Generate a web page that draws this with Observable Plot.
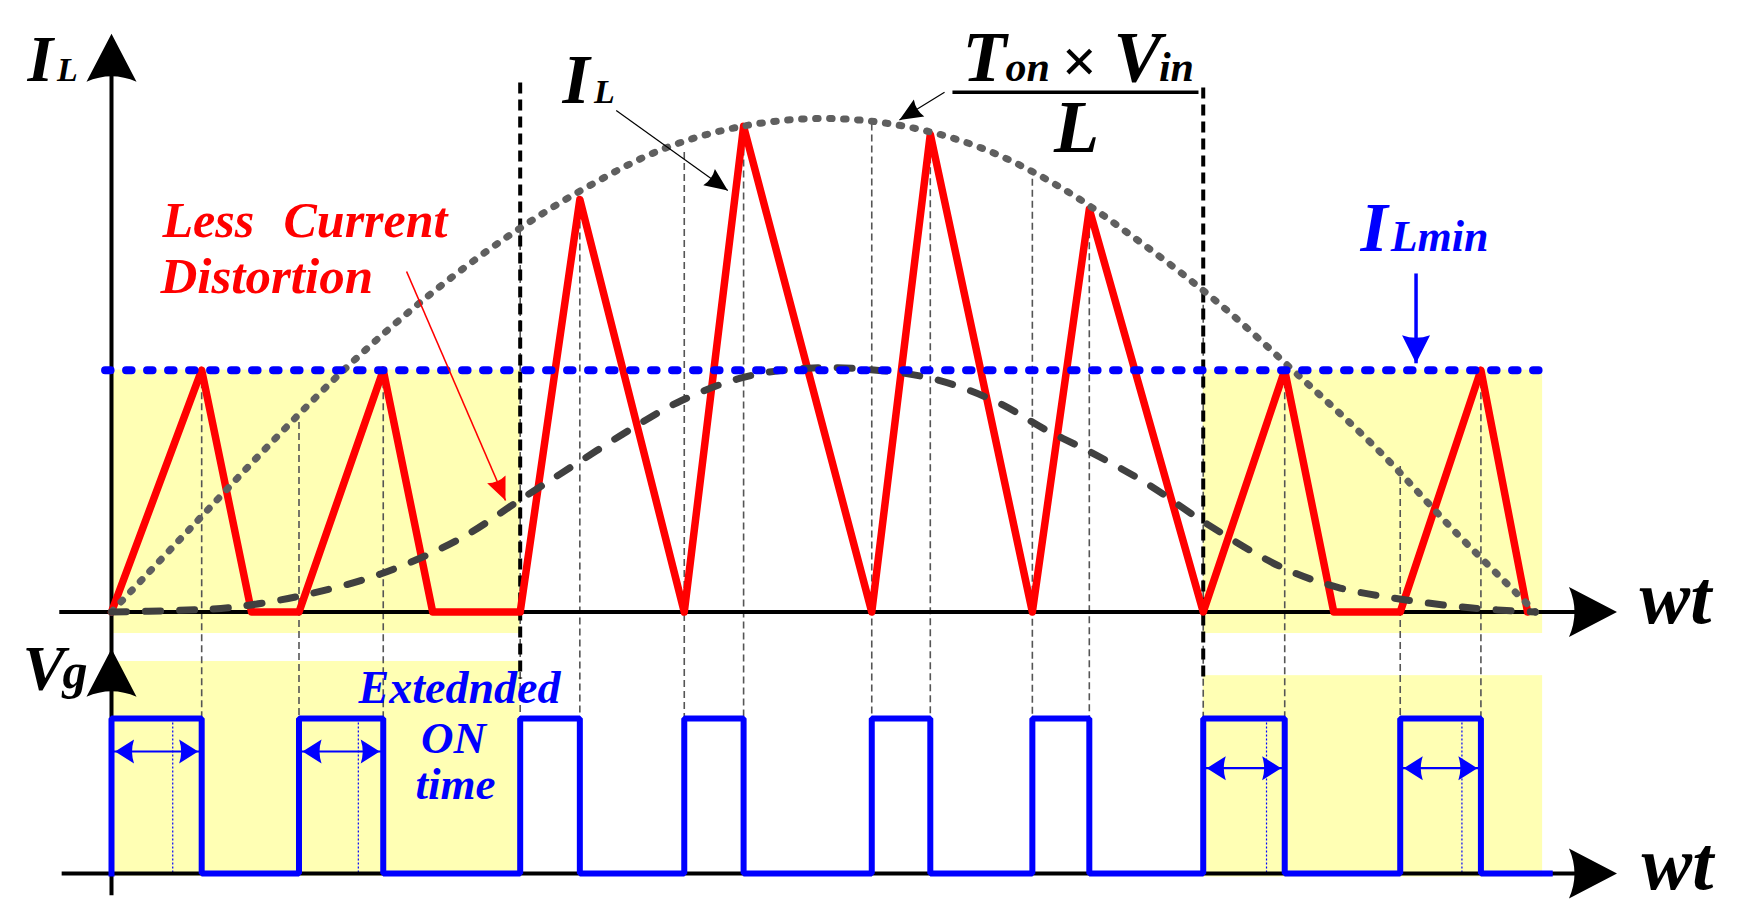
<!DOCTYPE html>
<html><head><meta charset="utf-8">
<script src="https://cdn.jsdelivr.net/npm/d3@7"></script>
<script src="https://cdn.jsdelivr.net/npm/@observablehq/plot@0.6"></script>
<style>
html,body{margin:0;padding:0;background:#fff;}
#chart{width:1738px;height:919px;overflow:hidden;}
</style></head><body><div id="chart"></div>
<script>
// ---------------- DATA ----------------
// angle ωt in degrees over one half cycle, current in units of the envelope peak
const envelopeDeg = [0, 10, 20, 30, 40, 50, 60, 70, 80, 90, 100, 110, 120, 130, 140, 150, 160, 170, 180];
const envelopeVal = [0, 0.17, 0.34, 0.50, 0.64, 0.76, 0.86, 0.94, 0.985, 1.0, 0.985, 0.94, 0.86, 0.75, 0.625, 0.48, 0.33, 0.16, 0];

const avgDeg = [0, 8, 15, 24, 34, 44, 52, 59, 66, 72, 80, 88, 96, 104, 112, 118, 124, 131, 138.5, 148, 155, 163, 172, 180];
const avgVal = [0, 0.003, 0.009, 0.033, 0.077, 0.148, 0.231, 0.303, 0.374, 0.428, 0.476, 0.494, 0.491, 0.472, 0.425, 0.37, 0.322, 0.259, 0.178, 0.09, 0.05, 0.026, 0.008, 0];

const redDeg = [0, 11.4, 17.7, 23.7, 34.35, 40.6, 51.66, 59.2, 72.4, 79.9, 96.1, 103.5, 116.4, 123.6, 138.0, 148.3, 154.5, 162.9, 173.1, 179.0];
const redVal = [0, 0.49, 0, 0, 0.49, 0, 0, 0.836, 0, 0.984, 0, 0.968, 0, 0.816, 0, 0.49, 0, 0, 0.49, 0];

const ILmin = 0.49;

const gateOn  = [0, 23.7, 51.66, 72.4, 96.1, 116.4, 138.0, 162.9];
const gateOff = [11.4, 34.35, 59.2, 79.9, 103.5, 123.6, 148.3, 173.1];
const gateEnd = 181.8;
const extendedPulses = [0, 1, 6, 7];
const nominalOff = [7.74, 31.2, 146.0, 170.7];

const guideDeg = [11.4, 23.7, 34.35, 51.66, 59.2, 72.4, 79.9, 96.1, 103.5, 116.4, 123.6, 138.0, 148.3, 162.9, 173.1];
const guideTop = [0.49, 0.385, 0.49, 0.77, 0.836, 0.932, 0.984, 0.99, 0.968, 0.878, 0.816, 0.645, 0.49, 0.296, 0.49];

const boundaryDeg = [51.66, 138.0];

// ---------------- LAYOUT ----------------
const W = 1738, H = 919;
const X_RANGE = [111, 1535];     // 0..180 deg
const Y_RANGE = [611.5, 118];    // 0..1 current unit
const VG_LOW = -0.53, VG_HIGH = -0.216;
const gy = v => VG_LOW + v * (VG_HIGH - VG_LOW);
const BLUE = "#0000ff", RED = "#ff0000";
const FONT = "Liberation Serif";
const AXIS_END = 190.3;

const px = d => X_RANGE[0] + d / 180 * (X_RANGE[1] - X_RANGE[0]);
const py = u => Y_RANGE[0] + u * (Y_RANGE[1] - Y_RANGE[0]);
const angleOf = (x1, y1, x2, y2) => Math.atan2(px(x2) - px(x1), -(py(y2) - py(y1))) * 180 / Math.PI;

function head(len, hw, notch) {
  return {draw(ctx) {
    ctx.moveTo(0, 0);
    ctx.lineTo(hw, len);
    ctx.quadraticCurveTo(0, len - notch, -hw, len);
    ctx.closePath();
  }};
}
const bigHead = head(48, 25, 11);
const smallHead = head(23, 10, 4);
const gateHead = head(19, 12, 4);
const minHead = head(28, 14, 5);

// ---------------- TABLES ----------------
const envelope = envelopeDeg.map((d, i) => ({x: d, y: envelopeVal[i]}));
const avg = avgDeg.map((d, i) => ({x: d, y: avgVal[i]}));
const red = redDeg.map((d, i) => ({x: d, y: redVal[i]}));
const gate = [];
gateOn.forEach((on, i) => {
  gate.push({x: on, y: gy(0)}, {x: on, y: gy(1)}, {x: gateOff[i], y: gy(1)}, {x: gateOff[i], y: gy(0)});
});
gate.push({x: gateEnd, y: gy(0)});
const guides = guideDeg.map((d, i) => ({x: d, y1: guideTop[i], y2: gy(1)}));
const arrowLevels = [-0.2827, -0.2827, -0.3165, -0.3165];
const extArrows = extendedPulses.map((p, k) => ({x1: gateOn[p], x2: gateOff[p], y: arrowLevels[k]}));
const nominal = nominalOff.map(d => ({x: d}));

const yellow = [
  {x1: 0, x2: boundaryDeg[0], y1: -0.0436, y2: ILmin},
  {x1: 0, x2: boundaryDeg[0], y1: -0.535, y2: -0.1003},
  {x1: boundaryDeg[1], x2: 180.9, y1: -0.0436, y2: ILmin},
  {x1: boundaryDeg[1], x2: 180.9, y1: -0.537, y2: -0.129}
];
const boundaries = [
  {x: boundaryDeg[0], y1: 1.073, y2: -0.135},
  {x: boundaryDeg[1], y1: 1.063, y2: -0.139}
];

const annoArrows = [
  {x1: 63.8, y1: 1.016, x2: 77.9, y2: 0.854, c: "black", w: 1.2, h: smallHead},
  {x1: 105.3, y1: 1.053, x2: 99.6, y2: 0.997, c: "black", w: 1.2, h: smallHead},
  {x1: 37.3, y1: 0.69, x2: 49.8, y2: 0.226, c: RED, w: 1.6, h: smallHead},
  {x1: 164.9, y1: 0.686, x2: 164.9, y2: 0.504, c: BLUE, w: 3.5, h: minHead}
];

const labels = [
  {t: "I", x: -10.62, y: 1.077, s: 66, c: "black"},
  {t: "L", x: -6.9, y: 1.077, s: 34, c: "black"},
  {t: "V", x: -11.25, y: -0.159, s: 64, c: "black"},
  {t: "g", x: -6.2, y: -0.155, s: 50, c: "black"},
  {t: "I", x: 57.0, y: 1.032, s: 70, c: "black"},
  {t: "L", x: 61.0, y: 1.032, s: 34, c: "black"},
  {t: "T", x: 107.57, y: 1.077, s: 72, c: "black"},
  {t: "on", x: 113.0, y: 1.077, s: 42, c: "black"},
  {t: "V", x: 126.65, y: 1.077, s: 72, c: "black"},
  {t: "in", x: 132.4, y: 1.077, s: 42, c: "black"},
  {t: "L", x: 121.98, y: 0.9317, s: 74, c: "black", a: "middle"},
  {t: "Less", x: 6.45, y: 0.7589, s: 50, c: RED},
  {t: "Current", x: 21.74, y: 0.7589, s: 50, c: RED},
  {t: "Distortion", x: 6.19, y: 0.6454, s: 51, c: RED},
  {t: "I", x: 157.88, y: 0.7325, s: 70, c: BLUE},
  {t: "Lmin", x: 161.7, y: 0.7325, s: 44, c: BLUE},
  {t: "Extednded", x: 43.99, y: -0.1854, s: 46, c: BLUE, a: "middle"},
  {t: "ON", x: 43.23, y: -0.2867, s: 45, c: BLUE, a: "middle"},
  {t: "time", x: 43.48, y: -0.378, s: 45, c: BLUE, a: "middle"},
  {t: "wt", x: 193.15, y: -0.0233, s: 76, c: "black"},
  {t: "wt", x: 193.4, y: -0.5603, s: 76, c: "black"}
];

const marks = [];
// background shading
marks.push(Plot.rect(yellow, {x1: "x1", x2: "x2", y1: "y1", y2: "y2", fill: "#ffffb4"}));
// thin guides
marks.push(Plot.link(guides, {x1: "x", x2: "x", y1: "y1", y2: "y2", stroke: "#555", strokeWidth: 1.6, strokeDasharray: "7,4"}));
marks.push(Plot.link(nominal, {x1: "x", x2: "x", y1: gy(1), y2: gy(0), stroke: BLUE, strokeWidth: 1.2, strokeDasharray: "2,2"}));
// axes
marks.push(Plot.link([{x1: 0, x2: 0, y1: 1.10, y2: -0.574}], {x1: "x1", x2: "x2", y1: "y1", y2: "y2", stroke: "black", strokeWidth: 4}));
marks.push(Plot.link([{x1: -6.6, x2: AXIS_END - 3, y: 0}, {x1: -6.3, x2: AXIS_END - 3, y: VG_LOW}], {x1: "x1", x2: "x2", y1: "y", y2: "y", stroke: "black", strokeWidth: 4}));
marks.push(Plot.dot([{x: 0, y: 1.1716, r: 0}, {x: 0, y: -0.0746, r: 0}, {x: AXIS_END, y: 0, r: 90}, {x: AXIS_END, y: VG_LOW, r: 90}],
  {x: "x", y: "y", rotate: "r", r: 1, symbol: bigHead, fill: "black", stroke: "none"}));
// boundaries
marks.push(Plot.link(boundaries, {x1: "x", x2: "x", y1: "y1", y2: "y2", stroke: "black", strokeWidth: 4, strokeDasharray: "11,6"}));
// red inductor current
marks.push(Plot.line(red, {x: "x", y: "y", stroke: RED, strokeWidth: 7.5, strokeLinejoin: "round", strokeLinecap: "round"}));
// gate signal
marks.push(Plot.line(gate, {x: "x", y: "y", stroke: BLUE, strokeWidth: 6, strokeLinejoin: "miter", strokeLinecap: "square"}));
// extended ON arrows
marks.push(Plot.link(extArrows, {x1: "x1", x2: "x2", y1: "y", y2: "y", stroke: BLUE, strokeWidth: 2.2}));
marks.push(Plot.dot(extArrows, {x: d => d.x1 + 0.45, y: "y", rotate: -90, r: 1, symbol: gateHead, fill: BLUE, stroke: "none"}));
marks.push(Plot.dot(extArrows, {x: d => d.x2 - 0.45, y: "y", rotate: 90, r: 1, symbol: gateHead, fill: BLUE, stroke: "none"}));
// envelope and average curves
marks.push(Plot.line(envelope, {x: "x", y: "y", curve: "catmull-rom", stroke: "#5f5f5f", strokeWidth: 7, strokeDasharray: "2.5,11.5", strokeLinecap: "round"}));
marks.push(Plot.line(avg, {x: "x", y: "y", curve: "catmull-rom", stroke: "#404040", strokeWidth: 7, strokeDasharray: "15,19", strokeLinecap: "round"}));
// ILmin level
marks.push(Plot.ruleY([ILmin], {x1: -0.75, x2: 181.6, stroke: BLUE, strokeWidth: 8, strokeDasharray: "5.5,15.5", strokeLinecap: "round"}));
// annotation arrows
for (const a of annoArrows) {
  marks.push(Plot.link([a], {x1: "x1", y1: "y1", x2: "x2", y2: "y2", stroke: a.c, strokeWidth: a.w}));
  marks.push(Plot.dot([a], {x: "x2", y: "y2", rotate: angleOf(a.x1, a.y1, a.x2, a.y2), r: 1, symbol: a.h, fill: a.c, stroke: "none"}));
}
// fraction bar
marks.push(Plot.link([{x1: 106.3, x2: 137.4, y: 1.0533}], {x1: "x1", x2: "x2", y1: "y", y2: "y", stroke: "black", strokeWidth: 3.5}));
// texts
for (const l of labels) {
  marks.push(Plot.text([l], {x: "x", y: "y", text: "t", fontSize: l.s, fill: l.c, textAnchor: l.a || "start", lineAnchor: "bottom",
    fontFamily: FONT, fontWeight: "bold", fontStyle: "italic"}));
}
marks.push(Plot.text([{t: "×", x: 122.36, y: 1.115}], {x: "x", y: "y", text: "t", fontSize: 62, fill: "black", textAnchor: "middle", lineAnchor: "middle", fontFamily: FONT, fontWeight: "bold"}));

const chart = Plot.plot({
  width: W, height: H,
  marginTop: 0, marginRight: 0, marginBottom: 0, marginLeft: 0,
  x: {domain: [0, 180], range: X_RANGE, axis: null},
  y: {domain: [0, 1], range: Y_RANGE, axis: null},
  style: {background: "white", overflow: "visible"},
  marks
});
document.getElementById("chart").appendChild(chart);
</script></body></html>
